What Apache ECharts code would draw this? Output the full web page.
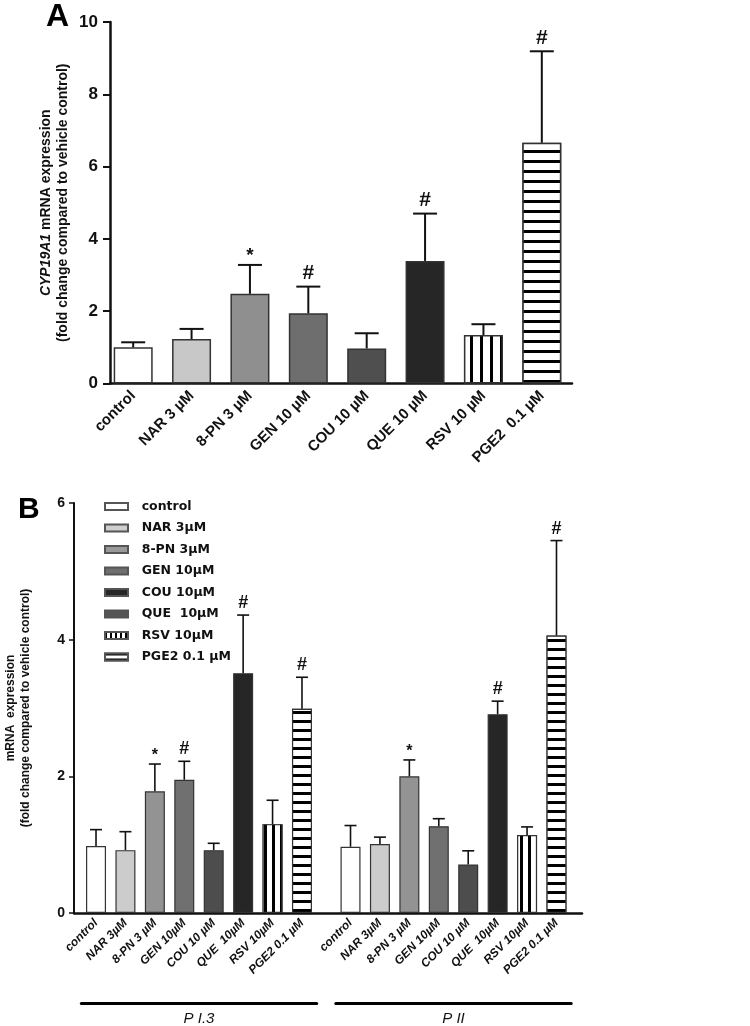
<!DOCTYPE html>
<html>
<head>
<meta charset="utf-8">
<script src="https://cdn.jsdelivr.net/npm/echarts@6/dist/echarts.min.js"></script>
<style>
html, body { margin: 0; padding: 0; background: #fff; }
#main { width: 750px; height: 1026px; }
</style>
</head>
<body>
<div id="main"></div>
<script>
// ---------------- panel A data ----------------
var catsA = ['control', 'NAR 3 µM', '8-PN 3 µM', 'GEN 10 µM', 'COU 10 µM', 'QUE 10 µM', 'RSV 10 µM', 'PGE2  0.1 µM'];
var meanA = [1.00, 1.23, 2.48, 1.94, 0.97, 3.39, 1.34, 6.66];
var errA  = [0.14, 0.28, 0.80, 0.74, 0.42, 1.31, 0.30, 2.53];
var sigA  = ['', '', '*', '#', '', '#', '', '#'];

// ---------------- panel B data ----------------
var catsB  = ['control', 'NAR 3µM', '8-PN 3 µM', 'GEN 10µM', 'COU 10 µM', 'QUE  10µM', 'RSV 10µM', 'PGE2 0.1 µM'];
var meanB1 = [0.98, 0.92, 1.78, 1.95, 0.92, 3.51, 1.30, 2.99];   // P I.3
var errB1  = [0.24, 0.27, 0.40, 0.27, 0.10, 0.85, 0.35, 0.46];
var sigB1  = ['', '', '*', '#', '', '#', '', '#'];
var meanB2 = [0.97, 1.01, 2.00, 1.27, 0.71, 2.91, 1.14, 4.06];   // P II
var errB2  = [0.31, 0.10, 0.24, 0.11, 0.20, 0.19, 0.12, 1.39];
var sigB2  = ['', '', '*', '', '', '#', '', '#'];
var legendNames = ['control', 'NAR 3µM', '8-PN 3µM', 'GEN 10µM', 'COU 10µM', 'QUE  10µM', 'RSV 10µM', 'PGE2 0.1 µM'];

// ---------------- styles ----------------
var FONT = '"Liberation Sans", Arial, sans-serif';
var fillA = ['#ffffff', '#c8c8c8', '#8f8f8f', '#6e6e6e', '#4f4f4f', '#262626', 'v', 'h'];
var fillB = ['#ffffff', '#cccccc', '#939393', '#707070', '#4d4d4d', '#262626', 'v', 'h'];
var fillLegend = ['#ffffff', '#cfcfcf', '#999999', '#6f6f6f', '#262626', '#555555', 'v', 'h'];

function stripes(kind, line, gap) {
    if (kind == 'v') {
        return { symbol: 'rect', symbolSize: 1, color: '#000', backgroundColor: '#fff',
                 dashArrayX: [line, gap], dashArrayY: [1, 0] };
    }
    return { symbol: 'rect', symbolSize: 1, color: '#000', backgroundColor: '#fff',
             dashArrayX: [1, 0], dashArrayY: [line, gap] };
}

function barStyle(fill, bw, vPat, hPat) {
    var st = { color: fill, borderColor: '#333', borderWidth: bw };
    if (fill == 'v') { st.color = '#fff'; st.decal = stripes('v', vPat[0], vPat[1]); }
    if (fill == 'h') { st.color = '#fff'; st.decal = stripes('h', hPat[0], hPat[1]); }
    return st;
}

function barItems(vals, fills, bw, vPat, hPat) {
    return vals.map(function (v, i) {
        return { value: v, itemStyle: barStyle(fills[i], bw, vPat, hPat) };
    });
}

// error bar (upper only) + significance mark
function errSeries(xi, mean, err, sig, capHalf, lw, fs, lift) {
    return {
        type: 'custom', xAxisIndex: xi, yAxisIndex: xi, z: 5, silent: true,
        data: mean.map(function (m, i) { return [i, m, m + err[i]]; }),
        encode: { x: 0, y: [1, 2] },
        renderItem: function (params, api) {
            var p0 = api.coord([api.value(0), api.value(1)]);
            var p1 = api.coord([api.value(0), api.value(2)]);
            var kids = [
                { type: 'line', shape: { x1: p0[0], y1: p0[1], x2: p1[0], y2: p1[1] },
                  style: { stroke: '#111', lineWidth: lw } },
                { type: 'line', shape: { x1: p1[0] - capHalf, y1: p1[1], x2: p1[0] + capHalf, y2: p1[1] },
                  style: { stroke: '#111', lineWidth: lw } }
            ];
            var mark = sig[params.dataIndex];
            if (mark) {
                kids.push({ type: 'text',
                    style: { text: mark, x: p1[0], y: p1[1] - (mark == '*' ? lift - 3 : lift),
                             align: 'center', verticalAlign: 'bottom',
                             font: 'bold ' + (mark == '*' ? fs - 2 : fs) + 'px ' + FONT, fill: '#111' } });
            }
            return { type: 'group', children: kids };
        }
    };
}

function frameX(gi) {
    return { gridIndex: gi, type: 'value', min: 0, max: 1,
             axisLine: { show: true, lineStyle: { color: '#111', width: 2.5 } },
             axisTick: { show: false }, axisLabel: { show: false }, splitLine: { show: false } };
}
function catX(gi, cats, fs, italic, margin) {
    return { gridIndex: gi, type: 'category', data: cats,
             axisLine: { show: false }, axisTick: { show: false }, splitLine: { show: false },
             axisLabel: { interval: 0, rotate: 45, margin: margin, color: '#111',
                          fontFamily: FONT, fontWeight: 'bold', fontSize: fs,
                          fontStyle: italic ? 'italic' : 'normal' } };
}
function groupLine(gi, name) {
    return { gridIndex: gi, type: 'category', data: catsB, position: 'bottom', offset: 90,
             axisLine: { show: true, lineStyle: { color: '#000', width: 3 } },
             axisTick: { show: false }, axisLabel: { show: false },
             name: name, nameLocation: 'middle', nameGap: 8,
             nameTextStyle: { fontFamily: FONT, fontStyle: 'italic', fontSize: 15, color: '#111' } };
}
function hiddenY(gi, max) {
    return { gridIndex: gi, type: 'value', min: 0, max: max, show: false };
}
function grid(left, top, width, height) {
    return { left: left, top: top, width: width, height: height, containLabel: false, outerBoundsMode: 'none' };
}

var chart = echarts.init(document.getElementById('main'));

var series = [
    { type: 'bar', name: 'A bars', xAxisIndex: 1, yAxisIndex: 1, barWidth: 39,
      data: barItems(meanA, fillA, 1.5, [3, 7], [3, 6.6]) },
    errSeries(1, meanA, errA, sigA, 12, 2, 21, 3),
    { type: 'bar', name: 'B P I.3', xAxisIndex: 3, yAxisIndex: 3, barWidth: 20, stack: 'b1',
      data: barItems(meanB1, fillB, 1.2, [2.5, 5], [3, 6]) },
    errSeries(3, meanB1, errB1, sigB1, 6, 1.6, 18, 3),
    { type: 'bar', name: 'B P II', xAxisIndex: 4, yAxisIndex: 4, barWidth: 20,
      data: barItems(meanB2, fillB, 1.2, [2.5, 5], [3, 6]) },
    errSeries(4, meanB2, errB2, sigB2, 6, 1.6, 18, 3)
];
// legend-only series (empty, stacked so they take no room)
legendNames.forEach(function (n, i) {
    var st = barStyle(fillLegend[i], 1, [2, 3], [2, 3]);
    st.borderColor = '#555';
    series.push({ type: 'bar', name: n, xAxisIndex: 3, yAxisIndex: 3, stack: 'b1', data: [], itemStyle: st });
});

var option = {
    animation: false,
    backgroundColor: '#fff',
    title: [
        { text: 'A', left: 46, top: 1, padding: 0,
          textStyle: { fontFamily: FONT, fontWeight: 'bold', fontSize: 32, color: '#000' } },
        { text: 'B', left: 18, top: 495, padding: 0,
          textStyle: { fontFamily: FONT, fontWeight: 'bold', fontSize: 30, color: '#000' } }
    ],
    legend: {
        data: legendNames, orient: 'vertical', left: 104, top: 500, padding: 0,
        itemWidth: 23, itemHeight: 7, itemGap: 8.5, selectedMode: false, icon: 'rect',
        formatter: '  {name}',
        textStyle: { fontFamily: '"DejaVu Sans", sans-serif', fontWeight: 'bold', fontSize: 12.5, color: '#111' }
    },
    grid: [
        grid(110, 22, 462, 361.5),
        grid(104, 22, 467, 361.5),
        grid(74, 503, 508, 410),
        grid(81.3, 503, 235.4, 410),
        grid(335.8, 503, 235.4, 410)
    ],
    xAxis: [
        frameX(0),
        catX(1, catsA, 15, false, 10),
        frameX(2),
        catX(3, catsB, 12, true, 8),
        catX(4, catsB, 12, true, 8),
        groupLine(3, 'P I.3'),
        groupLine(4, 'P II')
    ],
    yAxis: [
        { gridIndex: 0, type: 'value', min: 0, max: 10, interval: 2,
          axisLine: { show: true, lineStyle: { color: '#111', width: 2.5 } },
          axisTick: { show: true, length: 7, lineStyle: { color: '#111', width: 2 } },
          axisLabel: { margin: 12, color: '#111', fontFamily: FONT, fontWeight: 'bold', fontSize: 17 },
          splitLine: { show: false },
          name: '{i|CYP19A1} mRNA expression\n(fold change compared to vehicle control)',
          nameLocation: 'middle', nameRotate: 90, nameGap: 38, nameMoveOverlap: false,
          nameTextStyle: { fontFamily: FONT, fontWeight: 'bold', fontSize: 14, lineHeight: 17, color: '#111',
                           rich: { i: { fontFamily: FONT, fontWeight: 'bold', fontStyle: 'italic', fontSize: 14, color: '#111' } } } },
        hiddenY(1, 10),
        { gridIndex: 2, type: 'value', min: 0, max: 6, interval: 2,
          axisLine: { show: true, lineStyle: { color: '#111', width: 2 } },
          axisTick: { show: true, length: 5, lineStyle: { color: '#111', width: 1.5 } },
          axisLabel: { margin: 9, color: '#111', fontFamily: FONT, fontWeight: 'bold', fontSize: 14 },
          splitLine: { show: false },
          name: 'mRNA  expression\n(fold change compared to vehicle control)',
          nameLocation: 'middle', nameRotate: 90, nameGap: 41, nameMoveOverlap: false,
          nameTextStyle: { fontFamily: FONT, fontWeight: 'bold', fontSize: 12, lineHeight: 15, color: '#111' } },
        hiddenY(3, 6),
        hiddenY(4, 6)
    ],
    series: series
};

option && chart.setOption(option);
</script>
</body>
</html>
